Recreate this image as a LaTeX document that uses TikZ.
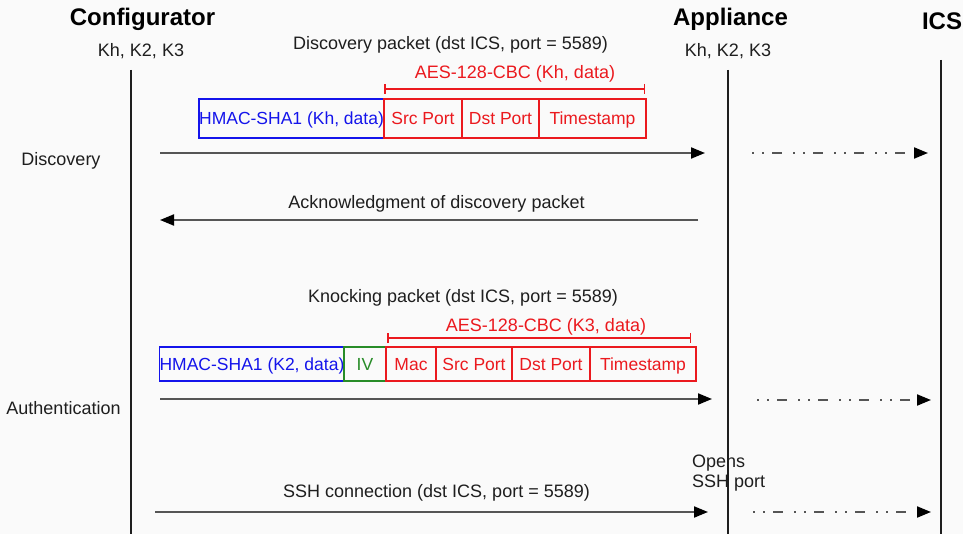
\documentclass[tikz,border=0pt]{standalone}
\usepackage{fontspec}
\setmainfont{Liberation Sans}
\usetikzlibrary{arrows.meta}

\definecolor{bg}{RGB}{250,250,250}
\definecolor{ink}{RGB}{30,30,30}
\definecolor{wire}{RGB}{85,85,85}
\definecolor{macblue}{RGB}{20,20,235}
\definecolor{encred}{RGB}{235,25,30}
\definecolor{ivgreen}{RGB}{40,140,40}

\tikzset{
  title/.style={font=\fontsize{24}{28}\selectfont\bfseries, text=black, inner sep=0pt, anchor=base},
  lbl/.style={font=\fontsize{18}{21}\selectfont, text=ink, inner sep=0pt, anchor=base},
  field/.style={draw=#1, text=#1, line width=1.5pt, inner sep=0pt,
    font=\fontsize{17.5}{21}\selectfont, text height=12.5pt, text depth=0pt},
  lifeline/.style={draw=ink, line width=1.8pt},
  msg/.style={draw=wire, line width=2pt,
    -{Triangle[length=14pt,width=11pt,color=black]}},
  relay/.style={msg, dash pattern=on 2pt off 8pt on 2pt off 8pt on 10pt off 11pt},
  span/.style={draw=encred, line width=1.5pt,
    {Bar[width=10pt,line width=1.5pt]}-{Bar[width=10pt,line width=1.5pt]}},
}

\begin{document}
\begin{tikzpicture}[x=1pt, y=-1pt]
  \fill[bg] (0,0) rectangle (963,534);
  \useasboundingbox (0,0) rectangle (963,534);

  % participants
  \node[title] (conf) at (142.5,26) {Configurator};
  \node[title] (appl) at (730.5,26) {Appliance};
  \node[title] (ics)  at (942,30) {ICS};
  \node[lbl] (confkeys) at (141,57) {Kh, K2, K3};
  \node[lbl] (applkeys) at (728,57) {Kh, K2, K3};

  % lifelines
  \coordinate (conftop) at (131,70);  \coordinate (confbot) at (131,534);
  \coordinate (appltop) at (728,70);  \coordinate (applbot) at (728,534);
  \coordinate (icstop)  at (941,60);  \coordinate (icsbot)  at (941,534);
  \draw[lifeline] (conftop) -- (confbot);
  \draw[lifeline] (appltop) -- (applbot);
  \draw[lifeline] (icstop) -- (icsbot);

  % ---- discovery ----
  \node[lbl] (discpkt) at (450.5,50) {Discovery packet (dst ICS, port = 5589)};
  \node[lbl, text=encred] (aes1) at (515,79) {AES-128-CBC (Kh, data)};
  \coordinate (b1l) at (384,89); \coordinate (b1r) at (645,89);
  \draw[span] (b1l) -- (b1r);

  \node[field=macblue, minimum width=185pt, minimum height=39pt] (hmac1) at (291.5,118.5) {HMAC-SHA1 (Kh, data)};
  \node[field=encred, minimum width=78pt, minimum height=39pt] (src1) at (423,118.5) {Src Port};
  \node[field=encred, minimum width=77pt, minimum height=39pt] (dst1) at (500.5,118.5) {Dst Port};
  \node[field=encred, minimum width=107pt, minimum height=39pt] (ts1) at (592.5,118.5) {Timestamp};

  \node[lbl] (discphase) at (61,166) {Discovery};
  \coordinate (d1s) at (160,153); \coordinate (d1e) at (705,153);
  \coordinate (d2s) at (752,153); \coordinate (d2e) at (928,153);
  \draw[msg] (d1s) -- (d1e);
  \draw[relay] (d2s) -- (d2e);

  \node[lbl] (acklbl) at (436.5,209) {Acknowledgment of discovery packet};
  \coordinate (as) at (698,220); \coordinate (ae) at (160,220);
  \draw[msg] (as) -- (ae);

  % ---- authentication ----
  \node[lbl] (knockpkt) at (463,303) {Knocking packet (dst ICS, port = 5589)};
  \node[lbl, text=encred] (aes2) at (546,331) {AES-128-CBC (K3, data)};
  \coordinate (b2l) at (387,338); \coordinate (b2r) at (691,338);
  \draw[span] (b2l) -- (b2r);

  \node[field=macblue, minimum width=184pt, minimum height=34pt] (hmac2) at (252,364) {HMAC-SHA1 (K2, data)};
  \node[field=ivgreen, minimum width=42pt, minimum height=34pt] (iv) at (365,364) {IV};
  \node[field=encred, minimum width=50pt, minimum height=34pt] (mac) at (411,364) {Mac};
  \node[field=encred, minimum width=76pt, minimum height=34pt] (src2) at (474,364) {Src Port};
  \node[field=encred, minimum width=78pt, minimum height=34pt] (dst2) at (551,364) {Dst Port};
  \node[field=encred, minimum width=106pt, minimum height=34pt] (ts2) at (643,364) {Timestamp};

  \node[lbl] (authphase) at (63.5,414) {Authentication};
  \coordinate (k1s) at (160,399); \coordinate (k1e) at (712,399);
  \coordinate (k2s) at (757,400); \coordinate (k2e) at (931,400);
  \draw[msg] (k1s) -- (k1e);
  \draw[relay] (k2s) -- (k2e);

  % ---- SSH ----
  \node[lbl, anchor=base west] (opens) at (692,467) {Opens};
  \node[lbl, anchor=base west] (sshport) at (692,487) {SSH port};
  \node[lbl] (sshlbl) at (436.5,497) {SSH connection (dst ICS, port = 5589)};
  \coordinate (s1s) at (155,512); \coordinate (s1e) at (708,512);
  \coordinate (s2s) at (753,512); \coordinate (s2e) at (931,512);
  \draw[msg] (s1s) -- (s1e);
  \draw[relay] (s2s) -- (s2e);
\end{tikzpicture}
\end{document}
